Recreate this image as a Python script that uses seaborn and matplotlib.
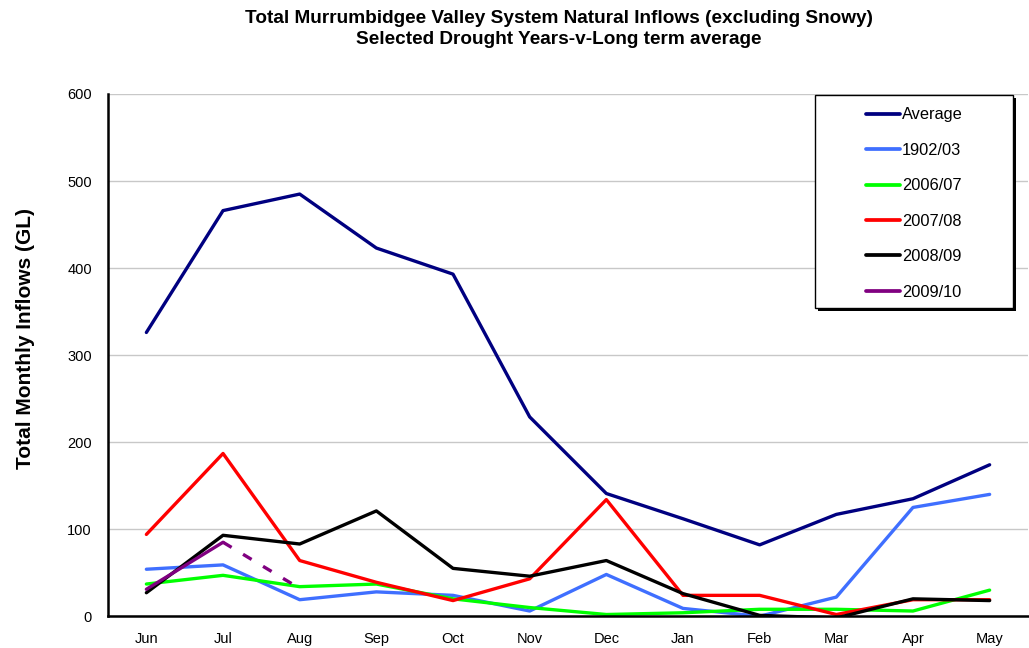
import numpy as np
import pandas as pd
import matplotlib.pyplot as plt
import matplotlib.patches as mpatches
import seaborn as sns

sns.set_style("white")
plt.rcParams['font.family'] = ['Liberation Sans', 'DejaVu Sans']
plt.rcParams['text.color'] = 'black'
plt.rcParams['axes.labelcolor'] = 'black'
plt.rcParams['xtick.color'] = 'black'
plt.rcParams['ytick.color'] = 'black'

months = ["Jun", "Jul", "Aug", "Sep", "Oct", "Nov", "Dec", "Jan", "Feb", "Mar", "Apr", "May"]

average = [326, 466, 485, 423, 393, 229, 141, 112, 82, 117, 135, 174]
y1902 = [54, 59, 19, 28, 24, 6, 48, 9, 0, 22, 125, 140]
y2006 = [37, 47, 34, 37, 20, 10, 2, 4, 8, 8, 6, 30]
y2007 = [94, 187, 64, 39, 18, 43, 134, 24, 24, 2, 19, 19]
y2008 = [27, 93, 83, 121, 55, 46, 64, 26, 1, -2, 20, 18]
y2009 = [31, 85]
y2009_est = [85, 32]  # dashed continuation Jul -> Aug

series = {
    "Average": (average, "#000080"),
    "1902/03": (y1902, "#3F6FFF"),
    "2006/07": (y2006, "#00FF00"),
    "2007/08": (y2007, "#FF0000"),
    "2008/09": (y2008, "#000000"),
    "2009/10": (y2009, "#800080"),
}

fig, ax = plt.subplots(figsize=(10.29, 6.48), dpi=100)
fig.subplots_adjust(left=0.105, right=0.999, bottom=0.049, top=0.855)

lw = 2.4
for name, (vals, col) in series.items():
    sns.lineplot(x=np.arange(len(vals)), y=vals, color=col, lw=lw, label=name, ax=ax)

sns.lineplot(x=[1, 2], y=y2009_est, color="#800080", lw=lw, ls=(0, (3, 4)),
             legend=False, ax=ax)

ax.set_xlim(-0.5, 11.5)
ax.set_ylim(0, 600)
ax.set_yticks(range(0, 601, 100))
ax.set_xticks(np.arange(12))
ax.set_xticklabels(months)
ax.set_xticks(np.arange(-0.5, 12, 1), minor=True)
ax.tick_params(axis="x", which="major", length=0, labelsize=10.5, pad=11)
ax.tick_params(axis="x", which="minor", direction="out", length=5, width=1.5)
ax.tick_params(axis="y", direction="out", length=3.6, width=1.5, labelsize=10.5, pad=8)
ax.yaxis.grid(True, color="#C8C8C8", lw=1)
ax.set_axisbelow(True)
for s in ["top", "right"]:
    ax.spines[s].set_visible(False)
for s in ["left", "bottom"]:
    ax.spines[s].set_color("black")
    ax.spines[s].set_linewidth(1.8)

ax.set_xlabel("")
ax.set_ylabel("Total Monthly Inflows (GL)", fontsize=15, fontweight="bold")
ax.yaxis.set_label_coords(-0.079, 0.532)

fig.suptitle("Total Murrumbidgee Valley System Natural Inflows (excluding Snowy)\n"
             "Selected Drought Years-v-Long term average",
             x=0.543, y=0.985, fontsize=13.7, fontweight="bold", linespacing=1.3)

# legend frame with a solid drop shadow
bx, by, bw, bh = 815 / 1029, 1 - 308 / 648, 198 / 1029, 213 / 648
ax.add_patch(mpatches.Rectangle((bx + 3 / 1029, by - 3 / 648), bw, bh,
                                transform=fig.transFigure, facecolor="black",
                                edgecolor="none", zorder=5, clip_on=False))
ax.add_patch(mpatches.Rectangle((bx, by), bw, bh, transform=fig.transFigure,
                                facecolor="white", edgecolor="black", lw=1.0,
                                zorder=6, clip_on=False))

leg = ax.legend(loc="center", bbox_to_anchor=(bx + bw / 2, by + bh / 2 - 2 / 648),
                bbox_transform=fig.transFigure, frameon=False, fontsize=11.8,
                labelspacing=1.25, handlelength=2.1, handletextpad=0.1)
leg.set_zorder(7)
for line in leg.get_lines():
    line.set_linewidth(lw + 0.3)

fig.savefig("out.png", dpi=100)
